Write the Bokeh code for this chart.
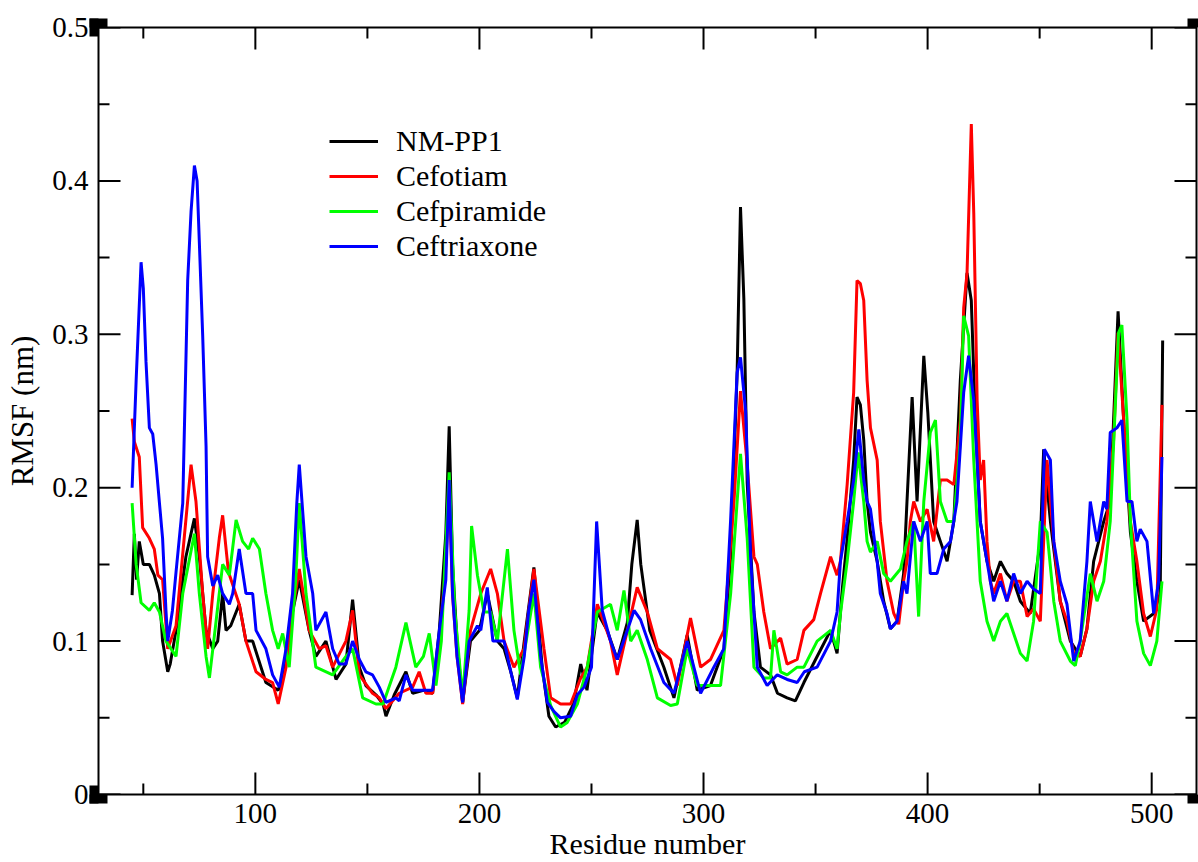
from bokeh.plotting import figure
from bokeh.models import (LinearAxis, FixedTicker, CustomJSTickFormatter, Legend,
                          LegendItem, Range1d)
from bokeh.embed import file_html
from bokeh.resources import INLINE

# ---------------- data ----------------
series_names = ["NM-PP1", "Cefotiam", "Cefpiramide", "Ceftriaxone"]
series_colors = ["#000000", "#ff0000", "#00ff00", "#0000ff"]

nm_pp1_res = [45, 46, 47, 48.2, 50, 52.7, 54.9, 57.2, 58.6, 60.9, 62, 64.6, 69, 72.8, 75, 78, 81, 83.2,
              85.4, 86.9, 89, 92.8, 95.8, 98.8, 104.7, 110.2, 113, 116.6, 119.6, 124, 127, 131.5, 136,
              140.4, 143.4, 146.4, 149.3, 153.8, 157, 158.3, 162, 167.2, 170.2, 175, 179.1, 182.1, 185,
              186.5, 188, 190, 192.5, 196,
              200, 203.5, 208, 211, 214, 216.9, 220, 224.3, 228, 231, 234, 238, 242, 245.2, 248, 252.5,
              257, 261.5, 266, 268, 270.4, 272, 276, 282.3, 286.8, 292.7, 297.2, 303.1, 309.1, 312.1,
              315, 316.5, 318, 319.5, 322.5, 325.4, 329.9, 333, 337.3, 341, 344.8, 350, 356.7, 359.6,
              362, 364, 367, 368.5, 370, 371.5, 373, 374.5, 377.5, 380.4, 383.4, 386.4, 389.3, 390.8,
              393.1, 395.3, 398.3, 400.1, 402.7, 405.7, 408.7, 411.7, 414.6, 417.6, 419.5, 421.3, 423.5,
              426.5, 429.5, 432.5, 435.4, 438.4, 441.4, 445.8, 450.3, 451.8, 454.8, 459.2, 463.7, 468.1,
              471.1, 474.1, 478.6, 481.5, 485, 487.5, 490.5, 493.4, 496.4, 500.9, 503.8, 504.9]
nm_pp1_rmsf = [0.130, 0.170, 0.140, 0.165, 0.150, 0.150, 0.143, 0.131, 0.100, 0.080, 0.085, 0.107, 0.155,
               0.180, 0.155, 0.107, 0.095, 0.100, 0.131, 0.107, 0.110, 0.124, 0.100, 0.100, 0.073, 0.068,
               0.080, 0.119, 0.140, 0.107, 0.090, 0.100, 0.075, 0.085, 0.127, 0.083, 0.071, 0.065, 0.059,
               0.051, 0.065, 0.080, 0.066, 0.068, 0.066, 0.107, 0.170, 0.240, 0.150, 0.100, 0.060, 0.100,
               0.107, 0.131, 0.100, 0.095, 0.080, 0.063, 0.100, 0.148, 0.083, 0.051, 0.044, 0.047, 0.059,
               0.085, 0.068, 0.119, 0.107, 0.088, 0.112, 0.150, 0.179, 0.150, 0.107, 0.083, 0.063, 0.104,
               0.068, 0.071, 0.095, 0.155, 0.275, 0.383, 0.323, 0.203, 0.119, 0.083, 0.078, 0.066, 0.063,
               0.061, 0.073, 0.088, 0.107, 0.092,
               0.135, 0.165, 0.218, 0.259, 0.254, 0.231, 0.191, 0.171, 0.152, 0.126, 0.108, 0.113, 0.144,
               0.191, 0.259, 0.191, 0.286, 0.249, 0.178, 0.165, 0.152, 0.178, 0.270, 0.340, 0.322, 0.244,
               0.178, 0.152, 0.139, 0.152, 0.144, 0.139, 0.126, 0.118, 0.165, 0.225, 0.178, 0.126, 0.100,
               0.090, 0.108, 0.152, 0.178, 0.191, 0.315, 0.244, 0.171, 0.139, 0.113, 0.118, 0.131, 0.296]

cefotiam_res = [45, 46, 48.2, 49.7, 52.7, 54.9, 56.5, 58.6, 60.9, 64.6, 69, 71.3, 73.5, 76.5, 78.7, 81,
                83.9, 85.4, 88, 92.8, 95.8, 100.3, 104.7, 107.7, 110.2, 113.7, 116.6, 119.6, 124, 128.5,
                131.5, 134.5, 140.4, 143.4, 146.4, 152.3, 155.3, 158.3, 164.2, 170.2, 173.1, 176.1, 179.1,
                182.1, 185, 186.5, 188, 190, 192.5, 196,
                200.6, 205, 208, 211, 215.4, 219.9, 224.3, 228.8, 231.8, 236.2, 240.7, 245.2, 248.1, 252.6,
                258.5, 261.5, 266, 270.4, 274.9, 279.4, 285.3, 288.3, 294.2, 298.7, 303.1, 309.1, 313.6,
                316.5, 319.5, 322.5, 324, 326.9, 329.9, 334.4, 337.3, 341.8, 344.8, 349.2, 352.2, 356.7,
                359.6,
                361.1, 364.1, 367, 368.5, 370, 371.5, 373, 374.5, 377.5, 378.9, 381.9, 384.9, 387.1, 389.3,
                390.8, 392.3, 393.8, 396.8, 399.8, 402.7, 405.7, 408.7, 411.7, 414.6, 416.1, 417.6, 419.5,
                420.6, 422.1, 423.5, 425, 426.5, 428, 429.5, 432.5, 435.4, 438.4, 441.4, 444.4, 447.3,
                450.3, 453.3, 456.3, 459.2, 462.2, 465.2, 468.1, 471.1, 474.1, 477.1, 480, 483, 485, 487.5,
                490.5, 493.4, 496.4, 499.4, 502.3, 504.6]
cefotiam_rmsf = [0.245, 0.230, 0.220, 0.174, 0.167, 0.160, 0.143, 0.140, 0.095, 0.110, 0.179, 0.215,
                 0.191, 0.131, 0.095, 0.131, 0.167, 0.182, 0.145, 0.124, 0.100, 0.080, 0.075, 0.073, 0.059,
                 0.083, 0.120, 0.147, 0.107, 0.095, 0.097, 0.083, 0.100, 0.120, 0.078, 0.066, 0.063, 0.056,
                 0.066, 0.070, 0.080, 0.066, 0.066, 0.100, 0.150, 0.200, 0.130, 0.090, 0.059, 0.107,
                 0.131, 0.147, 0.131, 0.100, 0.083, 0.095, 0.147, 0.095, 0.063, 0.059, 0.059, 0.076, 0.083,
                 0.124, 0.100, 0.078, 0.107, 0.135, 0.119, 0.095, 0.088, 0.071, 0.115, 0.083, 0.088, 0.107,
                 0.191, 0.263, 0.215, 0.155, 0.150, 0.119, 0.095, 0.102, 0.085, 0.088, 0.107, 0.114, 0.131,
                 0.155, 0.143,
                 0.152, 0.202, 0.262, 0.335, 0.333, 0.322, 0.270, 0.239, 0.218, 0.178, 0.139, 0.118, 0.111,
                 0.139, 0.152, 0.178, 0.191, 0.178, 0.186, 0.165, 0.205, 0.205, 0.202, 0.244, 0.317, 0.340,
                 0.437, 0.379, 0.257, 0.205, 0.218, 0.165, 0.139, 0.131, 0.144, 0.126, 0.139, 0.139, 0.116,
                 0.121, 0.113, 0.218, 0.165, 0.126, 0.113, 0.092, 0.090, 0.108, 0.139, 0.152, 0.178, 0.231,
                 0.301, 0.244, 0.178, 0.152, 0.118, 0.103, 0.121, 0.254]

cefpiramide_res = [45, 46.8, 49, 52.7, 54.9, 57.2, 60.1, 64.6, 67.6, 72.8, 75, 78, 79.5, 82.4, 85.4, 88.4,
                   91.4, 94.3, 97, 98.8, 101.8, 104.7, 107.7, 110.2, 112.2, 115.1, 118, 119.6, 122.6, 127,
                   134.5, 140.4, 143.4, 147.9, 153.8, 157, 162.7, 167.2, 171.6, 175, 177.6, 180.6, 183,
                   186.5, 189, 192.5, 195.4, 196.5,
                   199.1, 202, 205, 208, 212.5, 215.4, 218.4, 224.3, 227.3, 231.8, 236.2, 239.2, 243.7,
                   248.1, 252.6, 258.5, 261.5, 264.5, 267.5, 270.4, 274.9, 279.4, 285.3, 288.3, 292.7,
                   297.2, 303.1, 307.6, 312.1, 315, 316.5, 319.5, 322.5, 326.9, 329.9, 331.4, 334.4, 337.3,
                   341.8, 344.8, 350.7, 356.7, 359.6,
                   361.1, 364.1, 367, 369, 371.5, 373, 374.5, 377.5, 380.4, 383.4, 387.9, 390.8, 393.8, 396,
                   398.3, 401.2, 403.5, 405.7, 408.7, 411.7, 414.6, 416.1, 418.3, 420.6, 423.5, 426.5,
                   429.5, 432.5, 435.4, 438.4, 441.4, 444.4, 447.3, 450.3, 453.3, 456.3, 459.2, 463.7,
                   465.9, 468.1, 472.6, 475.6, 478.6, 481.5, 485.2, 486.7, 489, 490.5, 493.4, 496.4, 499.4,
                   502.3, 504.6]
cefpiramide_rmsf = [0.190, 0.150, 0.125, 0.120, 0.125, 0.119, 0.100, 0.090, 0.131, 0.170, 0.131, 0.090,
                    0.076, 0.112, 0.150, 0.143, 0.179, 0.165, 0.160, 0.167, 0.160, 0.131, 0.107, 0.095,
                    0.105, 0.083, 0.140, 0.190, 0.131, 0.083, 0.078, 0.090, 0.095, 0.063, 0.059, 0.059,
                    0.083, 0.112, 0.083, 0.090, 0.105, 0.071, 0.100, 0.210, 0.120, 0.063, 0.120, 0.175,
                    0.143, 0.119, 0.119, 0.100, 0.160, 0.107, 0.078, 0.131, 0.083, 0.058, 0.044, 0.047,
                    0.059, 0.083, 0.119, 0.124, 0.107, 0.133, 0.100, 0.107, 0.088, 0.063, 0.058, 0.059,
                    0.095, 0.071, 0.071, 0.071, 0.131, 0.191, 0.222, 0.167, 0.083, 0.076, 0.076, 0.107,
                    0.080, 0.078, 0.083, 0.083, 0.100, 0.107, 0.095,
                    0.118, 0.152, 0.191, 0.223, 0.191, 0.165, 0.158, 0.165, 0.144, 0.139, 0.147, 0.165,
                    0.178, 0.116, 0.191, 0.236, 0.244, 0.191, 0.178, 0.178, 0.231, 0.312, 0.299, 0.218,
                    0.139, 0.113, 0.100, 0.113, 0.118, 0.105, 0.092, 0.087, 0.113, 0.178, 0.171, 0.126,
                    0.100, 0.087, 0.084, 0.100, 0.144, 0.126, 0.139, 0.178, 0.301, 0.306, 0.244, 0.178,
                    0.113, 0.092, 0.084, 0.100, 0.139]

ceftriaxone_res = [45, 46.8, 49, 50, 51.2, 52.7, 54.2, 55.7, 57.2, 58.6, 60.1, 60.9, 63, 64.6, 67.6, 69.8,
                   71.3, 72.8, 74, 75, 76.5, 78, 78.7, 81, 83.2, 85.4, 88.4, 89.9, 92.8, 95.8, 98.8, 100.3,
                   104.7, 107.7, 110.7, 113.7, 116.6, 118.5, 119.6, 122.6, 125.6, 127, 131.5, 134.5, 137.4,
                   140.4, 143.4, 146.4, 149.3, 152.3, 155.3, 158.3, 162.7, 164.2, 167.2, 170.2, 175, 179.1,
                   182.1, 185, 186.5, 188, 190, 192.5, 195.4, 199.1,
                   200.6, 203.5, 206, 211, 214, 216.9, 220, 222, 224.3, 227.3, 230.3, 233.3, 236.2, 240.7,
                   243.7, 246.7, 250, 252.3, 254.8, 258.5, 261.5, 266, 269, 271.9, 276.4, 282.3, 286.8,
                   292.7, 298.7, 304.6, 309.1, 312.1, 315, 316.5, 318.8, 321, 324, 328.4, 332.9, 337.3,
                   341.8, 345, 350.7, 356.7, 359.6,
                   361.1, 364.1, 367, 369.3, 371.5, 373, 374.5, 377.5, 378.9, 381.9, 383.4, 386.4, 389.3,
                   390.8, 393.8, 396.8, 399.8, 401.2, 404.2, 407.2, 410.2, 413.1, 416.1, 418.3, 420.6,
                   422.1, 423.5, 426.5, 429.5, 432.5, 435.4, 438.4, 441.4, 444.4, 447.3, 450.3, 452.1,
                   454.8, 456.3, 459.2, 462.2, 465.2, 468.1, 471.1, 472.6, 475.6, 478.6, 480, 481.5, 484.5,
                   486.7, 489, 491.2, 493.4, 494.9, 497.9, 500.9, 503.1, 504.6]
ceftriaxone_rmsf = [0.200, 0.270, 0.347, 0.330, 0.282, 0.239, 0.235, 0.215, 0.190, 0.167, 0.120, 0.100,
                    0.120, 0.145, 0.190, 0.335, 0.380, 0.410, 0.400, 0.360, 0.299, 0.227, 0.155, 0.136,
                    0.143, 0.131, 0.124, 0.131, 0.160, 0.131, 0.131, 0.107, 0.095, 0.078, 0.070, 0.095,
                    0.131, 0.190, 0.215, 0.155, 0.131, 0.107, 0.119, 0.095, 0.085, 0.085, 0.100, 0.088,
                    0.080, 0.078, 0.070, 0.060, 0.063, 0.061, 0.078, 0.068, 0.068, 0.068, 0.107, 0.140,
                    0.205, 0.131, 0.090, 0.060, 0.100, 0.110,
                    0.107, 0.135, 0.100, 0.100, 0.080, 0.062, 0.090, 0.120, 0.140, 0.090, 0.060, 0.054,
                    0.050, 0.051, 0.065, 0.070, 0.083, 0.178, 0.120, 0.100, 0.088, 0.107, 0.120, 0.114,
                    0.095, 0.073, 0.066, 0.100, 0.066, 0.083, 0.095, 0.179, 0.275, 0.285, 0.250, 0.155,
                    0.083, 0.071, 0.078, 0.075, 0.073, 0.080, 0.083, 0.100, 0.119,
                    0.152, 0.178, 0.205, 0.238, 0.205, 0.191, 0.186, 0.152, 0.131, 0.118, 0.108, 0.113,
                    0.139, 0.131, 0.178, 0.165, 0.178, 0.144, 0.144, 0.160, 0.165, 0.191, 0.262, 0.286,
                    0.257, 0.218, 0.178, 0.152, 0.126, 0.139, 0.126, 0.144, 0.131, 0.139, 0.134, 0.131,
                    0.225, 0.218, 0.165, 0.139, 0.124, 0.087, 0.100, 0.152, 0.191, 0.165, 0.191, 0.186,
                    0.236, 0.239, 0.244, 0.191, 0.191, 0.165, 0.173, 0.165, 0.118, 0.139, 0.220]

x_ticks = [100, 200, 300, 400, 500]
x_minor_ticks = [50, 150, 250, 350, 450]
y_ticks = [0, 0.1, 0.2, 0.3, 0.4, 0.5]
y_minor_ticks = [0.05, 0.15, 0.25, 0.35, 0.45]
x_label = "Residue number"
y_label = "RMSF (nm)"
X_RANGE = (30, 520)
Y_RANGE = (0, 0.5)

# ---------------- layout ----------------
W, H = 1198, 862
BL, BR, BT, BB = 98, 2, 27, 68
FONT = "Liberation Serif"
TICK_SIZE = "29px"
LABEL_SIZE = "30px"
MAJOR_LEN, MINOR_LEN = 22, 11
MARK_OUT, MARK_W = 9, 18

p = figure(width=W, height=H, x_range=Range1d(*X_RANGE), y_range=Range1d(*Y_RANGE),
           output_backend="svg", toolbar_location=None,
           min_border_left=BL, min_border_right=BR, min_border_top=BT, min_border_bottom=BB,
           x_axis_type=None, y_axis_type=None)
p.background_fill_color = "white"
p.border_fill_color = "white"
p.outline_line_color = "black"
p.outline_line_width = 2

blank = CustomJSTickFormatter(code="return '';")


def marker_axis(ticks):
    """Axis that only paints Grace's black corner squares (outer quadrants)."""
    ax = LinearAxis(ticker=FixedTicker(ticks=ticks, minor_ticks=[]), formatter=blank)
    ax.axis_line_color = None
    ax.major_tick_in = 0
    ax.major_tick_out = MARK_OUT
    ax.major_tick_line_width = MARK_W
    ax.major_tick_line_color = "black"
    ax.major_tick_line_cap = "butt"
    ax.minor_tick_line_color = None
    ax.major_label_text_font_size = "1px"
    ax.major_label_standoff = 0
    return ax


def label_axis(ticks, standoff, formatter=None):
    """Axis that only carries the tick labels (tick marks are drawn inside the frame)."""
    ax = LinearAxis(ticker=FixedTicker(ticks=ticks, minor_ticks=[]))
    ax.axis_line_color = None
    ax.major_tick_in = 0
    ax.major_tick_out = 0
    ax.major_tick_line_color = None
    ax.minor_tick_line_color = None
    ax.major_label_text_font = FONT
    ax.major_label_text_font_size = TICK_SIZE
    ax.major_label_text_color = "black"
    ax.major_label_text_line_height = 1.0
    ax.major_label_standoff = standoff
    if formatter is not None:
        ax.formatter = formatter
    return ax


# corner markers first (closest to the frame), then the labelled axes
p.add_layout(marker_axis([X_RANGE[0], X_RANGE[1]]), "below")
p.add_layout(marker_axis([Y_RANGE[0], Y_RANGE[1]]), "left")
p.add_layout(marker_axis([X_RANGE[0], X_RANGE[1]]), "above")

y_fmt = CustomJSTickFormatter(code="return tick == 0 ? '0' : tick.toFixed(1);")
bottom = label_axis(x_ticks, 0)
bottom.axis_label = x_label
bottom.axis_label_text_font = FONT
bottom.axis_label_text_font_size = LABEL_SIZE
bottom.axis_label_text_font_style = "normal"
bottom.axis_label_text_color = "black"
bottom.axis_label_text_line_height = 1.0
bottom.axis_label_standoff = 1
left = label_axis(y_ticks, 1, formatter=y_fmt)
left.axis_label = y_label
left.axis_label_text_font = FONT
left.axis_label_text_font_size = "31px"
left.axis_label_text_font_style = "normal"
left.axis_label_text_color = "black"
left.axis_label_standoff = 9
p.add_layout(bottom, "below")
p.add_layout(left, "left")

# inward ticks on all four edges (Grace style)
tick_style = dict(line_color="black", line_width=2, length_units="screen", angle_units="deg")
for ticks, length in [(x_ticks, MAJOR_LEN), (x_minor_ticks, MINOR_LEN)]:
    p.ray(x=ticks, y=[Y_RANGE[0]] * len(ticks), length=length, angle=90, **tick_style)
    p.ray(x=ticks, y=[Y_RANGE[1]] * len(ticks), length=length, angle=-90, **tick_style)
for ticks, length in [(y_ticks, MAJOR_LEN), (y_minor_ticks, MINOR_LEN)]:
    p.ray(x=[X_RANGE[0]] * len(ticks), y=ticks, length=length, angle=0, **tick_style)
    p.ray(x=[X_RANGE[1]] * len(ticks), y=ticks, length=length, angle=180, **tick_style)

# ---------------- series ----------------
all_res = [nm_pp1_res, cefotiam_res, cefpiramide_res, ceftriaxone_res]
all_rmsf = [nm_pp1_rmsf, cefotiam_rmsf, cefpiramide_rmsf, ceftriaxone_rmsf]
items = []
for name, color, xs, ys in zip(series_names, series_colors, all_res, all_rmsf):
    r = p.line(xs, ys, line_color=color, line_width=3)
    items.append(LegendItem(label=name, renderers=[r]))

legend = Legend(items=items, location=(231, 531))
legend.border_line_color = None
legend.background_fill_alpha = 0
legend.padding = 0
legend.margin = 0
legend.spacing = 1
legend.glyph_width = 49
legend.glyph_height = 30
legend.label_height = 30
legend.label_standoff = 18
legend.label_text_font = FONT
legend.label_text_font_size = LABEL_SIZE
legend.label_text_color = "black"
p.add_layout(legend)

open("out.html", "w").write(file_html(p, INLINE))
